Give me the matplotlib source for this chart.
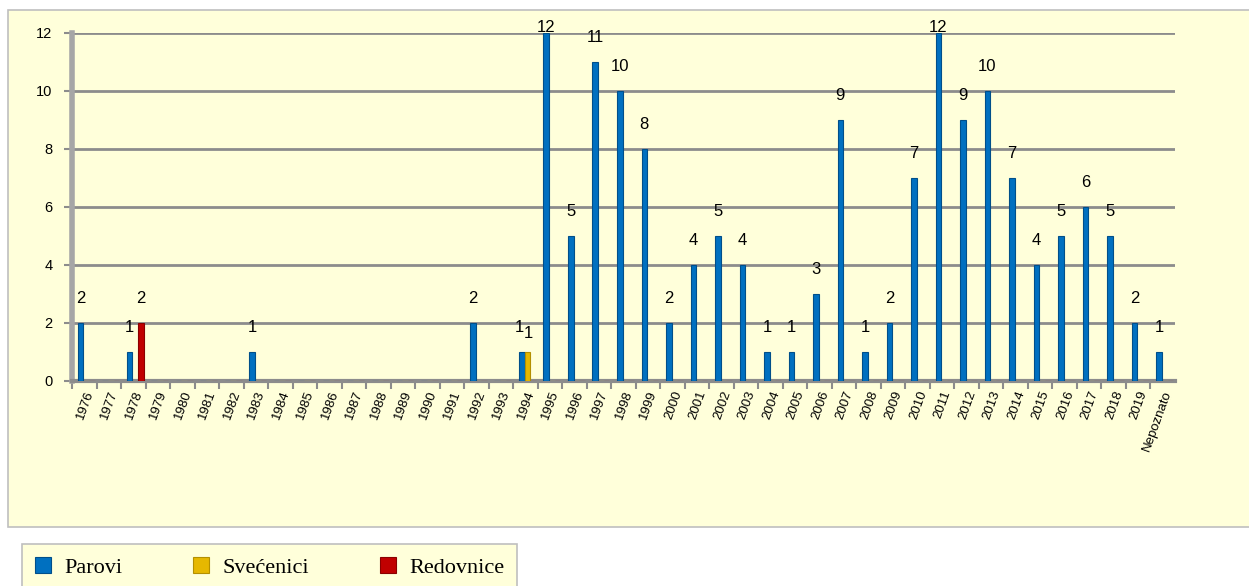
import matplotlib.pyplot as plt
import numpy as np
from matplotlib.patches import Rectangle

plt.rcParams['font.family'] = ['Liberation Sans', 'DejaVu Sans']

# podaci
godine = [str(g) for g in range(1976, 2020)] + ['Nepoznato']
parovi = [2, 0, 1, 0, 0, 0, 0, 1, 0, 0, 0, 0, 0, 0, 0, 0, 2, 0, 1, 12,
          5, 11, 10, 8, 2, 4, 5, 4, 1, 1, 3, 9, 1, 2, 7, 12, 9, 10, 7, 4,
          5, 6, 5, 2, 1]
svecenici = [0] * 45
svecenici[godine.index('1994')] = 1
redovnice = [0] * 45
redovnice[godine.index('1978')] = 2

serije = ['Parovi', 'Svećenici', 'Redovnice']
boje = ['#0070C0', '#E6B800', '#C00000']
rubovi = ['#004F8A', '#B38F00', '#8A0000']

bg = '#FFFFDA'

fig = plt.figure(figsize=(12.49, 5.86), dpi=100)
fig.patch.set_facecolor('white')

# okvir grafikona
okvir = Rectangle((8 / 1249, 59 / 586), 1.1, 517 / 586,
                  transform=fig.transFigure, facecolor=bg,
                  edgecolor='#BFBFBF', linewidth=1.2, zorder=-5)
fig.add_artist(okvir)

ax = fig.add_axes([72 / 1249, 205 / 586, 1103 / 1249, 348 / 586])
ax.set_zorder(2)
ax.set_facecolor(bg)

x = np.arange(len(godine))
w = 0.23
pomaci = [-0.15, 0.08, 0.31]
lab_pom = [0.83, 0.65, 0.83]
susjedi = np.array([parovi, svecenici]).min(axis=0) > 0   # dvije oznake jedna do druge
for k, (vals, pom, lp, c, ec, ime) in enumerate(zip([parovi, svecenici, redovnice], pomaci,
                                                    lab_pom, boje, rubovi, serije)):
    ax.bar(x + pom, vals, width=w, color=c, edgecolor=ec, linewidth=0.8,
           label=ime, zorder=3)
    for i, v in enumerate(vals):
        if v > 0:
            xi = x[i] + pom
            if susjedi[i] and k < 2:
                xi += -0.08 if k == 0 else 0.04
            ax.text(xi, min(v + lp, 12.2), str(v), ha='center', va='center',
                    fontsize=12, clip_on=False, zorder=5)

ax.set_xlim(-0.5, len(godine) - 0.5)
ax.set_ylim(0, 12)
ax.set_yticks(range(0, 13, 2))
ax.tick_params(axis='y', labelsize=10.5, length=6, color='#8C8C8C', width=1.5, pad=8)

ax.set_xticks(x - 0.5, minor=False)
ax.set_xticklabels([])
ax.set_xticks(x, minor=True)
ax.set_xticklabels(godine, minor=True, rotation=70, ha='right', va='top',
                   rotation_mode='anchor', fontsize=9.5)
ax.tick_params(axis='x', which='major', length=6, color='#8C8C8C', width=1.5)
ax.tick_params(axis='x', which='minor', length=0, pad=6)

ax.yaxis.grid(True, color='#8C8C8C', linewidth=2, zorder=1)
ax.set_axisbelow(True)
for s in ['top', 'right']:
    ax.spines[s].set_visible(False)
ax.spines['left'].set_color('#A6A6A6')
ax.spines['left'].set_linewidth(4)
ax.spines['bottom'].set_color('#8C8C8C')
ax.spines['bottom'].set_linewidth(3)

h, l = ax.get_legend_handles_labels()
leg = fig.legend(h, l, loc='lower left', bbox_to_anchor=(22 / 1249, -5 / 586),
                 ncol=3, frameon=True, fancybox=False, edgecolor='#BFBFBF',
                 facecolor=bg, framealpha=1, handlelength=0.7, handleheight=0.7,
                 columnspacing=3.2, handletextpad=0.6, borderpad=0.6,
                 borderaxespad=0, prop={'family': 'Liberation Serif', 'size': 16})
leg.get_frame().set_linewidth(1.2)

fig.savefig('out.png', dpi=100, facecolor=fig.get_facecolor())
